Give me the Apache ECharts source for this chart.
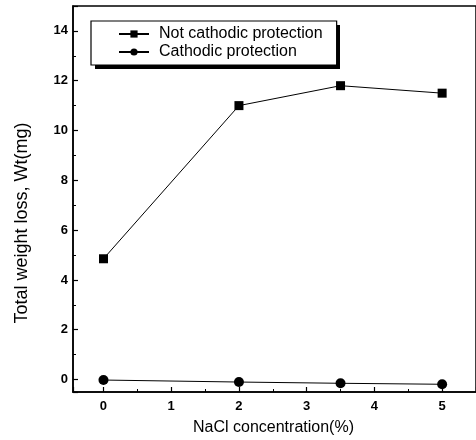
<!DOCTYPE html>
<html>
<head>
<meta charset="utf-8">
<script src="https://cdn.jsdelivr.net/npm/echarts@6/dist/echarts.min.js"></script>
<style>html,body{margin:0;padding:0;background:#fff;}#c{width:476px;height:440px;}</style>
</head>
<body>
<div id="c"></div>
<script>
var nacl = [0, 2, 3.5, 5];
var notCathodic = [4.85, 11.0, 11.8, 11.5];
var cathodic = [-0.02, -0.1, -0.15, -0.19];
var seriesNames = ['Not cathodic protection', 'Cathodic protection'];
var xTitle = 'NaCl concentration(%)';
var yTitle = 'Total weight loss, Wt(mg)';

function pairs(xs, ys) { return xs.map(function (x, i) { return [x, ys[i]]; }); }

var font = 'Liberation Sans, Arial, Helvetica, sans-serif';
var chart = echarts.init(document.getElementById('c'));
chart.setOption({
  animation: false,
  backgroundColor: '#fff',
  grid: { left: 73, top: 6, width: 408, height: 386, show: true, borderColor: '#000', borderWidth: 1.5, backgroundColor: 'transparent' },
  legend: {
    orient: 'vertical', left: 91, top: 21, z: 5,
    padding: [5, 14, 5, 27], itemGap: 2, itemWidth: 30, itemHeight: 9,
    backgroundColor: '#fff', borderColor: '#000', borderWidth: 1.2,
    textStyle: { fontFamily: font, fontSize: 16, color: '#000', padding: [0, 0, 0, 5] },
    data: seriesNames
  },
  xAxis: {
    type: 'value', min: -0.45, max: 5.5, minInterval: 1, maxInterval: 1,
    axisLine: { onZero: false, lineStyle: { color: '#000', width: 1.5 } },
    axisTick: { inside: true, length: 5, lineStyle: { color: '#000', width: 1.2 } },
    minorTick: { show: true, splitNumber: 2, length: 3, lineStyle: { color: '#000' } },
    splitLine: { show: false },
    axisLabel: { color: '#000', fontFamily: font, fontSize: 13, fontWeight: 'bold', margin: 8, showMinLabel: false, showMaxLabel: false }
  },
  yAxis: {
    type: 'value', min: -0.5, max: 15, minInterval: 2, maxInterval: 2,
    axisLine: { onZero: false, lineStyle: { color: '#000', width: 1.5 } },
    axisTick: { inside: true, length: 5, lineStyle: { color: '#000', width: 1.2 } },
    minorTick: { show: true, splitNumber: 2, length: 3, lineStyle: { color: '#000' } },
    splitLine: { show: false },
    axisLabel: { color: '#000', fontFamily: font, fontSize: 13, fontWeight: 'bold', margin: 5, showMinLabel: false, showMaxLabel: false }
  },
  graphic: [
    { type: 'rect', z: 4, shape: { x: 95, y: 25, width: 245, height: 44 }, style: { fill: '#000' } },
    { type: 'text', left: 193, top: 420, style: { text: xTitle, fontFamily: font, fontSize: 16, fill: '#000' } },
    { type: 'text', x: 13, y: 223, rotation: Math.PI / 2, style: { text: yTitle, fontFamily: font, fontSize: 18, fill: '#000', align: 'center', verticalAlign: 'top' } }
  ],
  series: [
    { name: seriesNames[0], type: 'line', data: pairs(nacl, notCathodic), symbol: 'rect', symbolSize: 9,
      itemStyle: { color: '#000' }, lineStyle: { color: '#000', width: 1 } },
    { name: seriesNames[1], type: 'line', data: pairs(nacl, cathodic), symbol: 'circle', symbolSize: 10,
      itemStyle: { color: '#000' }, lineStyle: { color: '#000', width: 1 } }
  ]
});
</script>
</body>
</html>
